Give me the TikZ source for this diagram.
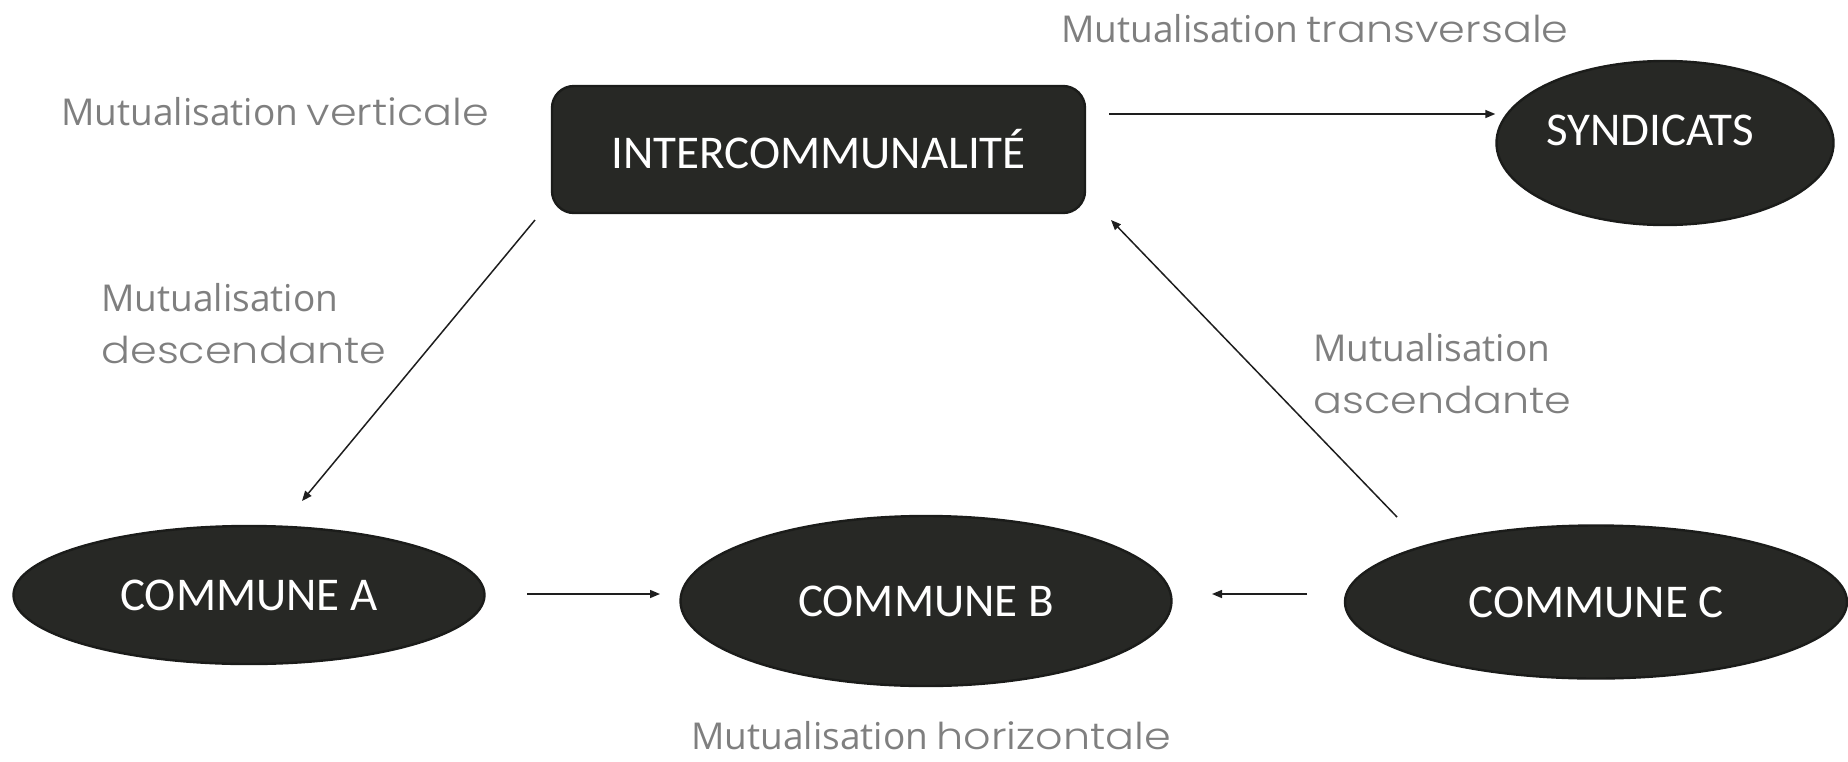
\documentclass[tikz,border=0pt]{standalone}
\usepackage{fontspec}
\setmainfont{Carlito}
\newfontfamily\mfont{Open Sans}
\newfontfamily\gfont{Poppins Light}[FakeStretch=1.16]
\usetikzlibrary{shapes.geometric,arrows.meta}
\definecolor{nodefill}{HTML}{272825}
\definecolor{nodeedge}{HTML}{1B1C1A}
\definecolor{lblgray}{HTML}{7F7F7F}
\definecolor{arrowcol}{HTML}{1E1E1E}
\newcommand\mutlbl[2]{{\mfont #1} {\gfont #2}}
\tikzset{
  darkbox/.style={draw=nodeedge, line width=1.2pt, fill=nodefill, text=white,
    font=\fontsize{23.5}{28}\selectfont, inner sep=0pt},
  darkell/.style={darkbox, ellipse},
  graylbl/.style={text=lblgray, inner sep=0pt, font=\fontsize{18.5}{26}\selectfont},
  conn/.style={draw=arrowcol, line width=0.75pt, -{Triangle[length=5pt,width=4pt]}}
}
\begin{document}
\begin{tikzpicture}[x=0.5pt,y=-0.5pt]
\useasboundingbox (0,0) rectangle (1848,761);
% nodes
\node[darkbox, rounded corners=11pt, minimum width=266.5pt, minimum height=63.5pt] (inter) at (818.5,149.5) {INTERCOMMUNALITÉ};
\node[darkell, minimum width=168.5pt, minimum height=82pt] (synd) at (1665,143) {\raisebox{13pt}{SYNDICATS}\hspace*{15pt}};
\node[darkell, minimum width=235.5pt, minimum height=69pt] (comA) at (249,595) {COMMUNE A};
\node[darkell, minimum width=245.5pt, minimum height=85pt] (comB) at (926,601) {COMMUNE B};
\node[darkell, minimum width=251pt, minimum height=76.5pt] (comC) at (1596,602) {COMMUNE C};
% labels
\node[graylbl, anchor=base west] (lvert) at (61,125) {\mutlbl{Mutualisation}{verticale}};
\node[graylbl, anchor=base west] (ltrans) at (1061,42) {\mutlbl{Mutualisation}{transversale}};
\node[graylbl, anchor=north west, align=left] (ldesc) at (101,283) {{\mfont Mutualisation}\\{\gfont descendante}};
\node[graylbl, anchor=north west, align=left] (lasc) at (1313,333) {{\mfont Mutualisation}\\{\gfont ascendante}};
\node[graylbl, anchor=base west] (lhor) at (691,749) {\mutlbl{Mutualisation}{horizontale}};
% connector end points
\coordinate (t1) at (1109,114);
\coordinate (d1) at (535,220);
\coordinate (d2) at (302,501);
\coordinate (a1) at (1397,517);
\coordinate (a2) at (1111,220);
\coordinate (h1) at (527,594);
\coordinate (h2) at (660,594);
\coordinate (h3) at (1307,594);
\coordinate (h4) at (1212,594);
% connectors
\draw[conn] (t1) -- (synd.west |- t1);
\draw[conn] (d1) -- (d2);
\draw[conn] (a1) -- (a2);
\draw[conn] (h1) -- (h2);
\draw[conn] (h3) -- (h4);
\end{tikzpicture}
\end{document}
